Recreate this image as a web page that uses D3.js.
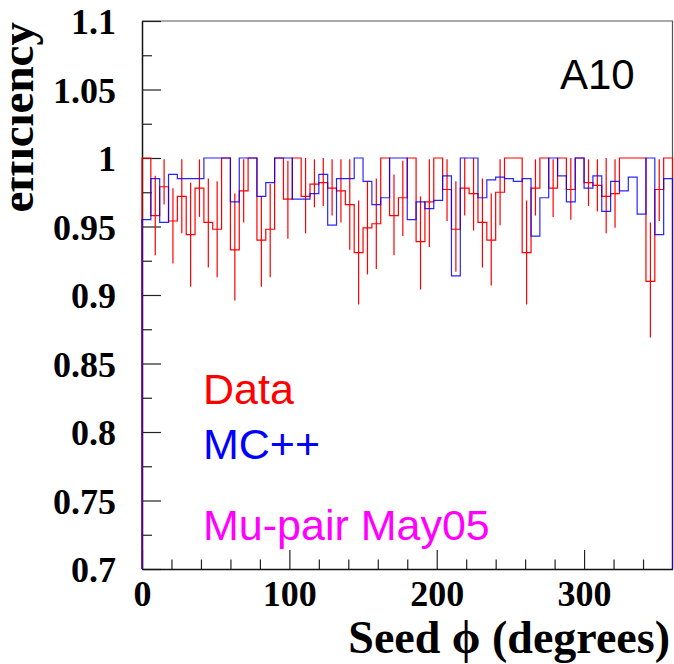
<!DOCTYPE html>
<html>
<head>
<meta charset="utf-8">
<script src="https://cdn.jsdelivr.net/npm/d3@7"></script>
<style>
  body { margin: 0; background: #fff; }
  svg { display: block; }
</style>
</head>
<body>
<svg width="674" height="664"></svg>
<script>

// 60 bins of 6 degrees in seed phi
let binLow = d3.range(0, 360, 6);

// Data efficiency per bin (red) with error bar ends
let dataEff = [1.0, 0.958, 0.979, 0.954, 0.972, 0.944, 0.978, 0.953, 0.948, 1.0,
               0.933, 0.976, 1.0, 0.940, 0.948, 1.0, 0.970, 1.0, 0.972, 0.981,
               0.982, 0.978, 0.976, 0.966, 0.931, 0.949, 0.952, 1.0, 0.958, 0.971,
               1.0, 0.939, 0.968, 1.0, 0.977, 0.948, 0.978, 0.974, 0.953, 0.940,
               0.975, 1.0, 1.0, 0.931, 0.978, 1.0, 0.978, 1.0, 0.977, 1.0,
               0.982, 0.980, 0.972, 0.974, 1.0, 1.0, 1.0, 0.910, 0.977, 1.0];

let dataErrHi = [null, 0.987, 0.999, 0.978, 0.999, 0.982, 0.999, 0.985, 0.983, null,
                 0.974, 0.999, null, 0.972, 0.981, null, 0.998, null, 1.0, 0.999,
                 1.0, 0.999, 0.999, 0.999, 0.969, 0.983, 0.985, null, 0.988, 0.998,
                 null, 0.972, 0.999, null, 0.999, 0.983, 1.0, 1.0, 0.985, 0.974,
                 0.999, null, null, 0.969, 0.999, null, 0.999, null, 1.0, null,
                 0.999, 0.999, 1.0, 0.999, null, null, null, 0.953, 0.999, null];

let dataErrLo = [null, 0.929, 0.966, 0.923, 0.945, 0.906, 0.957, 0.920, 0.913, null,
                 0.896, 0.953, null, 0.906, 0.913, null, 0.941, null, 0.945, 0.964,
                 0.965, 0.958, 0.953, 0.933, 0.893, 0.915, 0.919, null, 0.929, 0.943,
                 null, 0.904, 0.935, null, 0.954, 0.917, 0.958, 0.947, 0.920, 0.907,
                 0.951, null, null, 0.893, 0.958, null, 0.957, null, 0.955, null,
                 0.965, 0.961, 0.945, 0.949, null, null, null, 0.869, 0.954, null];

// MC++ efficiency per bin (blue)
let mcEff = [0.955, 0.985, 0.953, 0.988, 0.985, 0.985, 0.985, 1.0, 1.0, 1.0,
             0.968, 1.0, 1.0, 0.972, 0.982, 1.0, 1.0, 0.970, 0.970, 0.974,
             0.988, 0.951, 0.985, 0.985, 1.0, 0.983, 0.966, 0.971, 1.0, 1.0,
             0.955, 0.968, 0.963, 0.969, 0.987, 0.914, 1.0, 1.0, 0.971, 0.984,
             0.986, 0.985, 0.983, 0.985, 0.943, 0.971, 1.0, 0.987, 0.968, 1.0,
             0.978, 0.987, 0.961, 0.983, 0.976, 0.986, 0.959, 1.0, 0.944, 0.985];

let yTicks = [0.7, 0.75, 0.8, 0.85, 0.9, 0.95, 1.0, 1.05, 1.1];
let yTickLabels = ["0.7", "0.75", "0.8", "0.85", "0.9", "0.95", "1", "1.05", "1.1"];
let yMinor = [0.725, 0.775, 0.825, 0.875, 0.925, 0.975, 1.025, 1.075];
let xTicks = [0, 100, 200, 300];
let xTickLabels = ["0", "100", "200", "300"];
let xMinor = [20, 40, 60, 80, 120, 140, 160, 180, 220, 240, 260, 280, 320, 340];

let legendItems = [
  { text: "Data", color: "#ff0000", y: 404 },
  { text: "MC++", color: "#0000ff", y: 459 },
  { text: "Mu-pair May05", color: "#ff00ff", y: 540 }
];

let svg = d3.select("svg");
let margin = {left: 142, right: 672.5, top: 21, bottom: 569};

let x = d3.scaleLinear().domain([0, 360]).range([margin.left, margin.right]);
let y = d3.scaleLinear().domain([0.7, 1.1]).range([margin.bottom, margin.top]);

let serif = "'Liberation Serif', 'Times New Roman', serif";
let sans = "'Liberation Sans', Arial, Helvetica, sans-serif";

// frame (top / right)
svg.append("path")
  .attr("d", "M" + margin.left + "," + margin.top + "H" + margin.right + "V" + margin.bottom)
  .attr("fill", "none")
  .attr("stroke", "#555")
  .attr("stroke-width", 1.2);

// y axis (ticks inward)
let yAxis = svg.append("g")
  .attr("transform", "translate(" + margin.left + ",0)")
  .call(d3.axisLeft(y).tickValues(yTicks).tickSize(-19).tickSizeOuter(0).tickPadding(26)
        .tickFormat(function(d, i) { return yTickLabels[i]; }));
svg.append("g")
  .attr("transform", "translate(" + margin.left + ",0)")
  .call(d3.axisLeft(y).tickValues(yMinor).tickSize(-10).tickFormat(""))
  .select(".domain").remove();

// x axis (ticks inward)
let xAxis = svg.append("g")
  .attr("transform", "translate(0," + margin.bottom + ")")
  .call(d3.axisBottom(x).tickValues(xTicks).tickSize(-19).tickSizeOuter(0)
        .tickFormat(function(d, i) { return xTickLabels[i]; }));
svg.append("g")
  .attr("transform", "translate(0," + margin.bottom + ")")
  .call(d3.axisBottom(x).tickValues(xMinor).tickSize(-9.5).tickFormat(""))
  .select(".domain").remove();

svg.selectAll(".domain").attr("stroke", "#111").attr("stroke-width", 1.5);
svg.selectAll(".tick line").attr("stroke", "#222").attr("stroke-width", 1.2);

yAxis.selectAll("text")
  .attr("font-family", serif).attr("font-weight", "bold").attr("font-size", 36)
  .attr("fill", "#000").attr("dy", "0.36em");
xAxis.selectAll("text")
  .attr("font-family", serif).attr("font-weight", "bold").attr("font-size", 36)
  .attr("fill", "#000").attr("y", 37).attr("dy", 0);

let plot = svg.append("g");

function stepPoints(vals) {
  let pts = [[0, 0.7]];
  vals.forEach(function(v, i) { pts.push([binLow[i], v]); });
  pts.push([360, vals[vals.length - 1]]);
  pts.push([360, 0.7]);
  return pts;
}

let stepLine = d3.line()
  .x(function(d) { return x(d[0]); })
  .y(function(d) { return y(d[1]); })
  .curve(d3.curveStepAfter);

// data histogram
plot.append("path")
  .datum(stepPoints(dataEff))
  .attr("d", stepLine)
  .attr("fill", "none")
  .attr("stroke", "#ff0000")
  .attr("stroke-width", 1.2);

// error bars
plot.selectAll(".err")
  .data(binLow.filter(function(d, i) { return dataErrHi[i] !== null; }))
  .enter().append("line")
    .attr("class", "err")
    .attr("x1", function(d) { return x(d + 3); })
    .attr("x2", function(d) { return x(d + 3); })
    .attr("y1", function(d) { return y(dataErrHi[binLow.indexOf(d)]); })
    .attr("y2", function(d) { return y(dataErrLo[binLow.indexOf(d)]); })
    .attr("stroke", "#ff0000")
    .attr("stroke-width", 1.2);

// MC histogram (slightly see-through so overlaps with data look purple)
plot.append("path")
  .datum(stepPoints(mcEff))
  .attr("d", stepLine)
  .attr("fill", "none")
  .attr("stroke", "#0000ff")
  .attr("stroke-opacity", 0.85)
  .attr("stroke-width", 1.2);

// axis titles
svg.append("text")
  .attr("x", 670).attr("y", 653)
  .attr("text-anchor", "end")
  .attr("font-family", serif).attr("font-weight", "bold").attr("font-size", 46)
  .text("Seed \u03d5 (degrees)");

svg.append("text")
  .attr("transform", "translate(33,22) rotate(-90)")
  .attr("text-anchor", "end")
  .attr("font-family", serif).attr("font-weight", "bold").attr("font-size", 47)
  .text("efficiency");
// left edge of the canvas is cropped in the original
svg.append("rect").attr("x", 0).attr("y", 0).attr("width", 11.5).attr("height", 260).attr("fill", "#fff");

// labels
svg.append("text")
  .attr("x", 560).attr("y", 89)
  .attr("font-family", sans).attr("font-size", 42)
  .text("A10");

svg.selectAll(".leg")
  .data(legendItems)
  .enter().append("text")
    .attr("class", "leg")
    .attr("x", 203)
    .attr("y", function(d) { return d.y; })
    .attr("font-family", sans).attr("font-size", 43)
    .attr("fill", function(d) { return d.color; })
    .text(function(d) { return d.text; });

</script>
</body>
</html>
